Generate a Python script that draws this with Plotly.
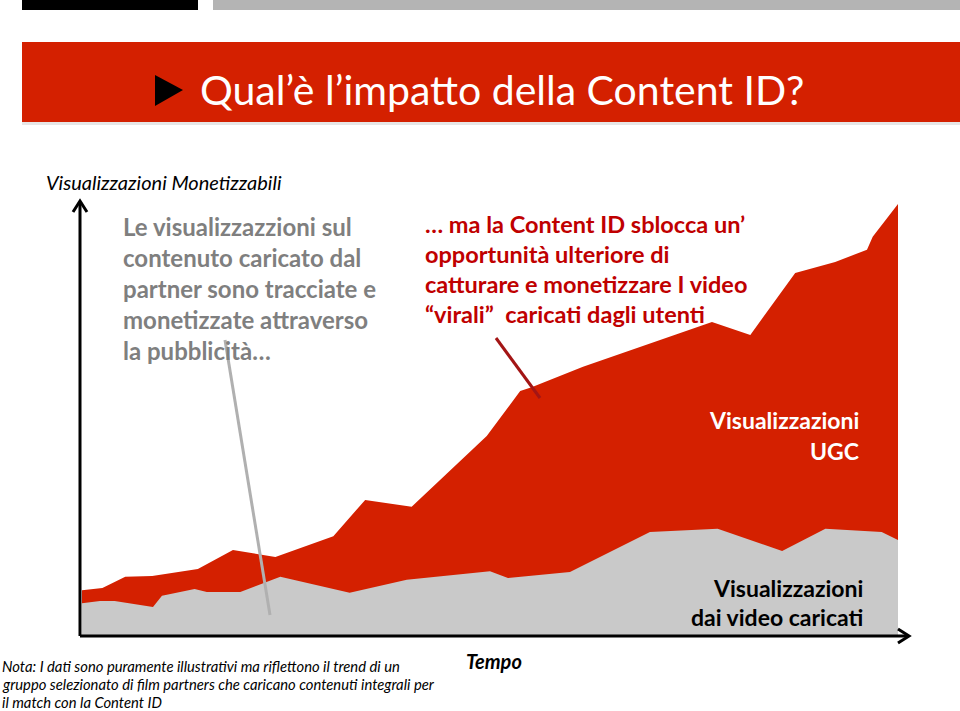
import plotly.graph_objects as go

# ---- data (time units 0..100, monetizable views 0..100) ----
uploaded_time = [0, 2.2, 4.0, 8.7, 9.8, 11.6, 13.8, 15.3, 19.4, 24.3, 32.8, 39.8,
                 50.0, 52.2, 59.8, 69.6, 77.9, 85.8, 91.1, 98.0, 100]
uploaded_views = [7.6, 8.1, 8.1, 6.7, 9.3, 10.0, 10.9, 10.2, 10.2, 13.7, 10.0, 13.0,
                  15.0, 13.4, 14.8, 24.1, 24.8, 19.7, 24.8, 24.1, 22.2]

total_time = [0, 2.5, 5.3, 8.6, 14.2, 18.5, 23.7, 30.8, 34.7, 40.4, 49.6, 53.7,
              55.1, 61.4, 77.2, 81.9, 87.4, 92.3, 96.2, 96.9, 100]
total_views = [10.6, 11.1, 13.7, 13.9, 15.5, 19.9, 18.3, 23.1, 31.5, 29.9, 46.3, 56.7,
               57.6, 62.3, 72.7, 69.7, 84.0, 86.6, 89.4, 92.4, 100]

title_text = "Qual’è l’impatto della Content ID?"
y_axis_label = "Visualizzazioni Monetizzabili"
x_axis_label = "Tempo"
left_note = ["Le visualizzazzioni sul", "contenuto caricato dal", "partner sono tracciate e",
             "monetizzate attraverso", "la pubblicità…"]
right_note = ["… ma la Content ID sblocca un’", "opportunità ulteriore di",
              "catturare e monetizzare I video", "“virali”  caricati dagli utenti"]
ugc_label = ["Visualizzazioni", "UGC"]
uploaded_label = ["Visualizzazioni", "dai video caricati"]
footnote = ["Nota: I dati sono puramente illustrativi ma riflettono il trend di un",
            "gruppo selezionato di film partners che caricano contenuti integrali per",
            "il match con la Content ID"]

RED = "#D42000"
GREY_AREA = "#C9C9C9"
FONT = "Lato"

W, H = 960, 711
L, R, T, B = 82, 898, 204, 636


def px(x):
    return (x - L) / (R - L)


def py(y):
    return (B - y) / (B - T)


fig = go.Figure()
fig.add_trace(go.Scatter(x=total_time, y=total_views, mode="lines", fill="tozeroy",
                         line=dict(color=RED, width=0), fillcolor=RED, hoverinfo="skip"))
fig.add_trace(go.Scatter(x=uploaded_time, y=uploaded_views, mode="lines", fill="tozeroy",
                         line=dict(color=GREY_AREA, width=0), fillcolor=GREY_AREA,
                         hoverinfo="skip"))

shapes = []


def rect(x0, y0, x1, y1, color):
    shapes.append(dict(type="rect", xref="paper", yref="paper", x0=px(x0), x1=px(x1),
                       y0=py(y0), y1=py(y1), fillcolor=color, line=dict(width=0),
                       layer="above"))


def line(x0, y0, x1, y1, color, width):
    shapes.append(dict(type="line", xref="paper", yref="paper", x0=px(x0), x1=px(x1),
                       y0=py(y0), y1=py(y1), line=dict(color=color, width=width),
                       layer="above"))


def path(points, color, fill=None, width=3):
    d = "M " + " L ".join(f"{px(a)},{py(b)}" for a, b in points)
    if fill:
        d += " Z"
    shapes.append(dict(type="path", xref="paper", yref="paper", path=d,
                       fillcolor=fill if fill else "rgba(0,0,0,0)",
                       line=dict(color=color, width=0 if fill else width), layer="above"))


# top decoration bars
rect(22, 0, 198, 10, "#000000")
rect(213, 0, 960, 10, "#B4B4B4")
# title banner
rect(22, 122, 960, 125, "#E6E6E6")
rect(22, 42, 960, 122, RED)
path([(155, 75), (183, 90), (155, 106)], "#000000", fill="#000000")

# axes with arrows
line(80, 636, 80, 202, "#000000", 3)
path([(73, 212), (80, 201), (87, 212)], "#000000", width=3)
line(80, 636, 908, 636, "#000000", 3)
path([(898, 629), (909, 636), (898, 643)], "#000000", width=3)

# callout lines
line(225, 340, 270, 615, "#B0B0B0", 3)
line(496, 338, 540, 398, "#A31515", 3)

annotations = []


def text(x, y, s, size, color, anchor="left", bold=False, italic=False):
    if bold:
        s = f"<b>{s}</b>"
    if italic:
        s = f"<i>{s}</i>"
    annotations.append(dict(xref="paper", yref="paper", x=px(x), y=py(y), text=s,
                            showarrow=False, xanchor=anchor, yanchor="middle",
                            font=dict(family=FONT, size=size, color=color)))


text(198, 89, title_text, 41, "#FFFFFF")
text(44, 182, y_axis_label, 20, "#000000", italic=True)
for i, s in enumerate(left_note):
    text(121, 226 + 31 * i, s, 24, "#7F7F7F", bold=True)
for i, s in enumerate(right_note):
    text(423, 224 + 30 * i, s, 23.5, "#C00000", bold=True)
for i, s in enumerate(ugc_label):
    text(861, 420 + 31 * i, s, 23, "#FFFFFF", anchor="right", bold=True)
for i, s in enumerate(uploaded_label):
    text(865, 588 + 29 * i, s, 23, "#000000", anchor="right", bold=True)
text(494, 661, x_axis_label, 20, "#000000", anchor="center", bold=True, italic=True)
for i, s in enumerate(footnote):
    text(0, 666 + 18 * i, s, 14.8, "#000000", italic=True)

fig.update_layout(
    width=W, height=H,
    margin=dict(l=L, r=W - R, t=T, b=H - B, pad=0),
    paper_bgcolor="#FFFFFF", plot_bgcolor="rgba(0,0,0,0)",
    showlegend=False, hovermode=False,
    xaxis=dict(range=[0, 100], visible=False, fixedrange=True),
    yaxis=dict(range=[0, 100], visible=False, fixedrange=True),
    shapes=shapes, annotations=annotations,
)

fig.write_html("out.html", config={"displayModeBar": False},
               post_script="document.body.style.margin='0px';"
                           "document.body.style.overflow='hidden';")
